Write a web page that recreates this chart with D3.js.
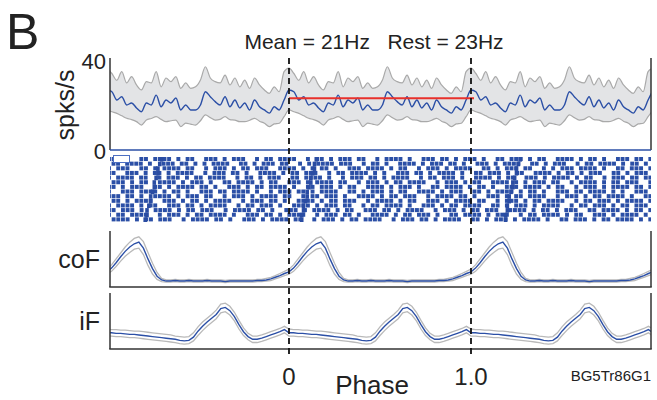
<!DOCTYPE html>
<html>
<head>
<meta charset="utf-8">
<script src="https://cdn.jsdelivr.net/npm/d3@7"></script>
<style>
  html, body { margin: 0; padding: 0; background: #fff; }
  svg { display: block; font-family: "Liberation Sans", Arial, sans-serif; }
</style>
</head>
<body>
<svg id="chart" width="657" height="400"></svg>
<script>
// ---- data: one phase cycle of each trace, repeated over three cycles ----
const cycles = [-1, 0, 1];
const phaseTicks = [0, 1];
const phaseTickLabels = ["0", "1.0"];
const rateTicks = [0, 40];
const meanHz = 21;
const restHz = 23;
const unitName = "BG5Tr86G1";

// firing rate (spks/s), 37 samples per cycle
const rateMean = [26.7, 25.9, 22.2, 23.7, 20.0, 20.9, 18.7, 17.0, 20.9, 20.0, 24.4, 19.2, 22.2,
  20.9, 23.1, 17.8, 20.0, 17.8, 17.8, 20.0, 25.9, 23.7, 21.5, 20.0, 23.7, 19.2, 22.2, 18.7,
  20.9, 17.8, 22.2, 19.2, 17.8, 16.4, 19.2, 17.8, 22.2];
const rateUpper = [36.4, 34.0, 31.0, 34.8, 29.8, 32.6, 28.9, 26.7, 30.4, 29.8, 34.8, 28.1, 32.0,
  30.4, 32.6, 27.4, 29.8, 27.4, 28.1, 31.1, 37.0, 32.0, 30.4, 29.8, 33.3, 28.9, 32.0, 28.1,
  31.1, 27.4, 32.0, 28.9, 26.7, 25.2, 28.1, 25.9, 34.8];
const rateLower = [17.8, 17.0, 16.3, 15.2, 14.1, 13.5, 12.6, 11.1, 13.3, 14.0, 14.8, 13.6, 12.6,
  13.0, 13.3, 10.4, 11.9, 11.5, 11.1, 13.0, 15.6, 14.4, 13.3, 13.6, 14.8, 13.5, 13.3, 12.6,
  12.6, 13.2, 14.1, 12.8, 11.9, 10.4, 11.6, 11.9, 14.8];

// coF activity (normalised), 40 samples per cycle
const coFMean = [0.28, 0.35, 0.45, 0.56, 0.66, 0.74, 0.80, 0.83, 0.72, 0.52, 0.34, 0.20, 0.13,
  0.11, 0.11, 0.12, 0.11, 0.11, 0.12, 0.11, 0.11, 0.11, 0.12, 0.11, 0.11, 0.11, 0.10, 0.11,
  0.11, 0.11, 0.11, 0.11, 0.11, 0.12, 0.12, 0.13, 0.15, 0.18, 0.21, 0.25];
const coFUpper = [0.33, 0.41, 0.52, 0.63, 0.74, 0.83, 0.90, 0.93, 0.84, 0.64, 0.44, 0.27, 0.16,
  0.13, 0.13, 0.14, 0.13, 0.13, 0.14, 0.13, 0.13, 0.13, 0.14, 0.13, 0.13, 0.13, 0.12, 0.13,
  0.13, 0.13, 0.13, 0.13, 0.13, 0.14, 0.14, 0.16, 0.18, 0.21, 0.25, 0.29];
const coFLower = [0.24, 0.29, 0.38, 0.48, 0.57, 0.64, 0.70, 0.72, 0.60, 0.40, 0.24, 0.14, 0.10,
  0.09, 0.09, 0.10, 0.09, 0.09, 0.10, 0.09, 0.09, 0.09, 0.10, 0.09, 0.09, 0.09, 0.08, 0.09,
  0.09, 0.09, 0.09, 0.09, 0.09, 0.10, 0.10, 0.11, 0.12, 0.15, 0.18, 0.21];

// iF activity (normalised), 40 samples per cycle
const iFMean = [0.30, 0.30, 0.29, 0.29, 0.28, 0.27, 0.27, 0.26, 0.25, 0.24, 0.23, 0.22, 0.21,
  0.20, 0.19, 0.18, 0.16, 0.15, 0.16, 0.22, 0.33, 0.42, 0.50, 0.57, 0.64, 0.75, 0.77, 0.71,
  0.60, 0.45, 0.32, 0.23, 0.18, 0.18, 0.20, 0.23, 0.26, 0.29, 0.32, 0.36];
const iFUpper = [0.37, 0.36, 0.36, 0.35, 0.35, 0.34, 0.33, 0.33, 0.32, 0.31, 0.30, 0.29, 0.28,
  0.27, 0.26, 0.24, 0.23, 0.22, 0.23, 0.30, 0.41, 0.50, 0.57, 0.64, 0.72, 0.83, 0.85, 0.79,
  0.68, 0.53, 0.39, 0.29, 0.24, 0.24, 0.26, 0.29, 0.32, 0.35, 0.38, 0.42];
const iFLower = [0.24, 0.24, 0.23, 0.23, 0.22, 0.21, 0.21, 0.20, 0.19, 0.18, 0.17, 0.16, 0.15,
  0.14, 0.13, 0.12, 0.10, 0.09, 0.10, 0.15, 0.25, 0.34, 0.42, 0.49, 0.56, 0.67, 0.69, 0.63,
  0.52, 0.37, 0.25, 0.17, 0.12, 0.12, 0.14, 0.17, 0.20, 0.23, 0.26, 0.30];

// spike raster: one string per trial, '#' = spike in that time bin (whole -1..2 span)
const rasterRows = [
  "###.#..##.####.#.##..###.#.###..#.##.####..#.##.#.###.##..#.####.#..###.##.#.###.#..##.###.#.##..####.#.##.#..###.##.#",
  ".##.####.#..###.##.#.#.####..##.#.###.##..#.#.####.###..#.##.#..####.#.###.##.#..###.#.####..##.#.###..#.##.####.#.##.#.",
  "#.###..##.#.####.##..#.###.#.##.###..####.#.#.##.#..###.####.#.##..#.###.#.####..##.#.###.##..#.#.###.####.#..##.###.#",
  "##..###.#.##.#.####..#.###.##.#..####.#.##.###..#.##.####.#.#..###.##.#.####.#..##.###.#.##..####.#.##.#.###..##.#.###.",
  "#.####.##..#.###.#.##.####..#.##.#.###..##.####.#..#.###.##.#.####..#.##.###.#..####.#.##..###.#.####.#.##..#.###.##.##",
  ".###.#.##..####.#.###.#..##.####.#.##..###.#.####.##..#.###.#.##.####..#.###.#.##..####.#.#.###.##..#.####.#.##.###..#",
  "##.#.###..##.#.####.##.#..###.#.##.####.#..##.###.#.##..####.#.###.#..##.####.#.##.#..###.####.#.##..#.###.#.####.##.#",
  "#..###.####.#.##.#..###.##.####.#..#.###.##.#.####..##.#.###.#.##..####.#.###..##.#.####.#.##.#..###.##.####.#.#..###.",
  "###.##.#..####.#.###.##..#.###.#.####.##..#.##.###.#..####.#.##.###..#.####.##.#..###.#.##.####..#.###.#.##.####.#..##",
  ".##.#.####..###.#.##.#.####..#.###.##.#..####.#.##.###..#.####.#.##..###.#.####.##..#.###.#.##.####..#.##.###.#.####.#",
  "#.####.#.##..###.##.#.####..#.##.###.#..####.#.###.##..#.##.####.#..###.#.##.####..##.#.###.#.####..#.##.###.#.##.###.",
  "##.###.#..####.#.##.###..#.####.##.#..###.#.####.#.##..###.##.#.####..#.###.#.##.###..####.#.##.#.###..##.####.#.##.#",
  "#.##.####..#.###.#.##.####.#..###.##.#.####..#.###.##.#..####.#.##.###.#..##.####.#.###..#.##.####.#.##..###.#.####.#.",
  ".####.#.##.###..#.####.##.#..###.#.####.##..#.###.#.##.####..#.###.##.#.####..##.#.###.#.####.#..##.###.#.##.####.#.#"
];
// per-trial movement-onset markers (phase), one column per slanted streak
const onsetPhases = [
  [-0.71, 0.14, 1.26], [-0.72, 0.13, 1.25], [-0.73, 0.13, 1.24], [-0.73, 0.12, 1.24],
  [-0.74, 0.11, 1.23], [-0.75, 0.11, 1.22], [-0.75, 0.10, 1.22], [-0.76, 0.09, 1.21],
  [-0.77, 0.09, 1.20], [-0.77, 0.08, 1.20], [-0.78, 0.07, 1.19], [-0.79, 0.07, 1.19],
  [-0.79, 0.06, 1.18], [-0.80, 0.06, 1.18]
];

// ---- layout ----
const svg = d3.select("#chart");
const blue = "#2b4fa6";
const gray = "#a9a9a9";
const axisColor = "#333";
const left = 110, right = 651;

const x = d3.scaleLinear().domain([-1, 2]).range([107, 653]);
const yRate = d3.scaleLinear().domain([0, 40]).range([150, 60]);
const yCoF = d3.scaleLinear().domain([0, 1]).range([287, 233]);
const yIF = d3.scaleLinear().domain([0, 1]).range([349, 295]);

svg.append("defs").append("clipPath").attr("id", "plotClip")
  .append("rect").attr("x", left).attr("y", 0).attr("width", right - left).attr("height", 400);

// repeat one cycle of samples across the three cycles
function tile(values) {
  const n = values.length;
  const out = [];
  cycles.forEach(c => values.forEach((v, i) => out.push({ p: c + i / n, v })));
  out.push({ p: 2, v: values[0] });
  return out;
}
function tileBand(lower, upper) {
  const lo = tile(lower), up = tile(upper);
  return lo.map((d, i) => ({ p: d.p, lo: d.v, hi: up[i].v }));
}

// ---- firing rate panel ----
const ratePanel = svg.append("g").attr("clip-path", "url(#plotClip)");
const rateBand = tileBand(rateLower, rateUpper);
ratePanel.append("path")
  .attr("d", d3.area().x(d => x(d.p)).y0(d => yRate(d.lo)).y1(d => yRate(d.hi))
    .curve(d3.curveMonotoneX)(rateBand))
  .attr("fill", "#e3e4e6");
[rateUpper, rateLower].forEach(arr => {
  ratePanel.append("path")
    .attr("d", d3.line().x(d => x(d.p)).y(d => yRate(d.v)).curve(d3.curveMonotoneX)(tile(arr)))
    .attr("fill", "none").attr("stroke", gray).attr("stroke-width", 1.2);
});
ratePanel.append("path")
  .attr("d", d3.line().x(d => x(d.p)).y(d => yRate(d.v)).curve(d3.curveMonotoneX)(tile(rateMean)))
  .attr("fill", "none").attr("stroke", blue).attr("stroke-width", 1.4);

// resting rate over one cycle
svg.append("line")
  .attr("x1", x(0)).attr("x2", x(1) + 3)
  .attr("y1", yRate(restHz)).attr("y2", yRate(restHz))
  .attr("stroke", "#e8312b").attr("stroke-width", 2);

// rate panel frame
svg.append("line").attr("x1", left).attr("x2", left).attr("y1", yRate(40) - 2).attr("y2", yRate(0))
  .attr("stroke", axisColor).attr("stroke-width", 1.5);
svg.append("line").attr("x1", right).attr("x2", right).attr("y1", yRate(40) - 2).attr("y2", yRate(0))
  .attr("stroke", axisColor).attr("stroke-width", 1.5);
svg.append("line").attr("x1", left).attr("x2", right).attr("y1", yRate(0)).attr("y2", yRate(0))
  .attr("stroke", blue).attr("stroke-width", 1.5);

svg.selectAll(".rateTick").data(rateTicks).enter().append("text")
  .attr("x", 106).attr("y", d => yRate(d) + 9)
  .attr("text-anchor", "end").attr("font-size", 22).attr("fill", "#222")
  .text(d => d);
svg.append("text")
  .attr("transform", `translate(74,${(yRate(0) + yRate(40)) / 2}) rotate(-90)`)
  .attr("text-anchor", "middle").attr("font-size", 25).attr("fill", "#222")
  .text("spks/s");

// ---- spike raster ----
const rasterTop = 157, rasterBottom = 222;
const rowH = (rasterBottom - rasterTop) / rasterRows.length;
const raster = svg.append("g").attr("clip-path", "url(#plotClip)");
rasterRows.forEach((row, r) => {
  const n = row.length;
  const spikes = [];
  for (let i = 0; i < n; i++) if (row[i] === "#") spikes.push(-1 + 3 * i / n);
  raster.selectAll(null).data(spikes).enter().append("rect")
    .attr("x", d => x(d))
    .attr("y", rasterTop + r * rowH)
    .attr("width", 3.9)
    .attr("height", rowH - 0.6)
    .attr("fill", blue);
  raster.selectAll(null).data(onsetPhases[r]).enter().append("rect")
    .attr("x", d => x(d))
    .attr("y", rasterTop + r * rowH)
    .attr("width", 3.6)
    .attr("height", rowH)
    .attr("fill", "#2a4ca2");
});
svg.append("rect").attr("x", 113.5).attr("y", 155.5).attr("width", 16).attr("height", 7)
  .attr("fill", "#fff").attr("stroke", "#4d6fc2").attr("stroke-width", 1);

// ---- coF and iF panels ----
function tracePanel(scale, mean, upper, lower, top, bottom, label, labelX) {
  const g = svg.append("g").attr("clip-path", "url(#plotClip)");
  const line = d3.line().x(d => x(d.p)).y(d => scale(d.v));
  [upper, lower].forEach(arr => {
    g.append("path").attr("d", line(tile(arr)))
      .attr("fill", "none").attr("stroke", "#b9b9b9").attr("stroke-width", 1.3);
  });
  g.append("path").attr("d", line(tile(mean)))
    .attr("fill", "none").attr("stroke", blue).attr("stroke-width", 1.4);
  svg.append("line").attr("x1", left).attr("x2", left).attr("y1", top).attr("y2", bottom)
    .attr("stroke", axisColor).attr("stroke-width", 1.5);
  svg.append("line").attr("x1", right).attr("x2", right).attr("y1", top).attr("y2", bottom)
    .attr("stroke", axisColor).attr("stroke-width", 1.5);
  svg.append("line").attr("x1", left - 0.75).attr("x2", right + 0.75).attr("y1", bottom).attr("y2", bottom)
    .attr("stroke", axisColor).attr("stroke-width", 1.5);
  svg.append("text").attr("x", labelX).attr("y", (top + bottom) / 2 + 9)
    .attr("text-anchor", "end").attr("font-size", 25).attr("fill", "#222").text(label);
}
tracePanel(yCoF, coFMean, coFUpper, coFLower, 231, 287, "coF", 100);
tracePanel(yIF, iFMean, iFUpper, iFLower, 293, 349, "iF", 100);

// ---- phase markers ----
svg.selectAll(".phaseLine").data(phaseTicks).enter().append("line")
  .attr("x1", d => x(d)).attr("x2", d => x(d))
  .attr("y1", 58).attr("y2", 357)
  .attr("stroke", "#111").attr("stroke-width", 1.8).attr("stroke-dasharray", "6,4");

svg.selectAll(".phaseTick").data(phaseTicks).enter().append("text")
  .attr("x", d => x(d)).attr("y", 385)
  .attr("text-anchor", "middle").attr("font-size", 24).attr("fill", "#222")
  .text((d, i) => phaseTickLabels[i]);
svg.append("text").attr("x", 372).attr("y", 394)
  .attr("text-anchor", "middle").attr("font-size", 26).attr("fill", "#222").text("Phase");
svg.append("text").attr("x", 651).attr("y", 381)
  .attr("text-anchor", "end").attr("font-size", 15).attr("fill", "#222").text(unitName);

// ---- titles ----
svg.append("text").attr("x", 6).attr("y", 49)
  .attr("font-size", 50).attr("fill", "#222").text("B");
svg.append("text").attr("x", 374).attr("y", 49)
  .attr("text-anchor", "middle").attr("font-size", 21).attr("fill", "#222")
  .attr("xml:space", "preserve")
  .text(`Mean = ${meanHz}Hz   Rest = ${restHz}Hz`);
</script>
</body>
</html>
